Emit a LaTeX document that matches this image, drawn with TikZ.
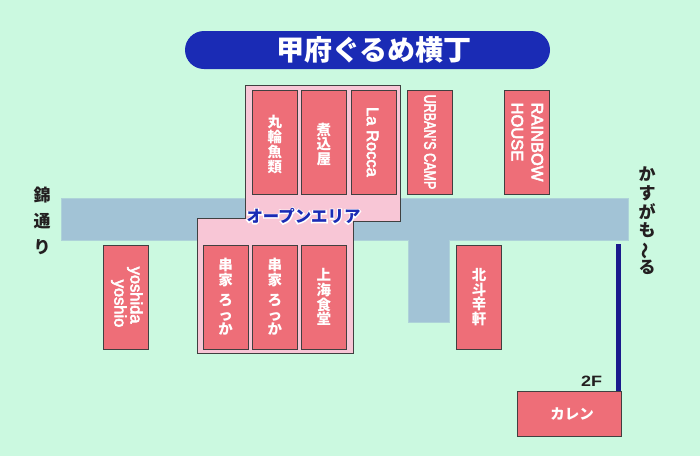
\documentclass[tikz,border=0pt]{standalone}
\usepackage{fontspec}
\setmainfont{Liberation Sans}
\newfontfamily\cjk{Noto Sans CJK JP}
\newfontfamily\cjkhalo[FakeBold=20]{Noto Sans CJK JP}
\newfontfamily\latmed[FakeBold=3.5]{Liberation Sans}
\definecolor{bgc}{HTML}{CBF9E0}
\definecolor{roadc}{HTML}{A2C3D6}
\definecolor{pinkc}{HTML}{F8C6D6}
\definecolor{shopc}{HTML}{EE6E78}
\definecolor{navyc}{HTML}{1A2BB5}
\definecolor{linec}{HTML}{1A1A8C}
\definecolor{inkc}{HTML}{231F20}
\newcommand{\vlat}[1]{\rotatebox{-90}{#1}}
\newcommand{\firstline}{\rule{0pt}{17pt}}
\tikzset{
  shopbox/.style={draw=black!75,line width=0.9pt,fill=shopc,text=white,inner sep=0pt,
    minimum width=45pt,minimum height=104pt,align=center,
    font=\cjk\bfseries\fontsize{14.5}{14.8}\selectfont},
  wideshop/.style={shopbox,minimum width=104pt,minimum height=45pt},
  latin/.style={font=\latmed\fontsize{16.5}{17}\selectfont},
  sidelabel/.style={text=inkc,inner sep=0pt,align=center},
}
\begin{document}
\begin{tikzpicture}[x=1pt,y=-1pt]
\useasboundingbox (0,0) rectangle (700,456);
\fill[bgc] (0,0) rectangle (700,456);
% road
\filldraw[fill=roadc,draw=roadc!70!bgc,line width=0.6pt] (61,198.5) -- (628,198.5) -- (628,240) -- (449.5,240) -- (449.5,322) -- (408,322) -- (408,240) -- (61,240) -- cycle;
% title
\node[fill=navyc,rounded corners=19pt,minimum width=365pt,minimum height=38pt,inner sep=0pt,text=white,
  font=\cjk\bfseries\fontsize{28}{30}\selectfont] (title) at (367.5,50) {\hspace*{13pt}甲府ぐるめ横丁};
% open area
\draw[fill=pinkc,draw=black!75,line width=0.9pt] (245.5,85.5) -- (400.5,85.5) -- (400.5,221) -- (353,221) -- (353,353) -- (197.5,353) -- (197.5,218.5) -- (245.5,218.5) -- cycle;
% shops
\node[shopbox] (maruwa) at (274.75,142) {\firstline 丸\\輪\\魚\\類};
\node[shopbox] (nikomi) at (323.75,142) {\firstline 煮\\込\\屋};
\node[shopbox,latin] (rocca) at (373.5,142) {\vlat{La Rocca}\hspace*{2pt}};
\node[shopbox,latin] (urban) at (430,142) {\vlat{\scalebox{0.76}[1]{URBAN’S CAMP}}};
\node[shopbox,latin] (rainbow) at (527,142) {\vlat{\begin{tabular}{@{}l@{}}RAINBOW\\[3pt]HOUSE\end{tabular}}\hspace*{4pt}};
\node[shopbox,latin] (yoshida) at (126,297) {\vlat{\begin{tabular}{@{}l@{}}yoshida\\[-1pt]\hspace*{13pt}yoshio\end{tabular}}};
\node[shopbox] (kushi1) at (225.5,297) {串\\家\\[5pt]ろ\\っ\\か};
\node[shopbox] (kushi2) at (274.75,297) {串\\家\\[5pt]ろ\\っ\\か};
\node[shopbox] (shanghai) at (323.75,297) {上\\海\\食\\堂};
\node[shopbox] (hokuto) at (479,297) {北\\斗\\辛\\軒};
\node[wideshop,font=\cjk\bfseries\fontsize{14.5}{15}\selectfont] (karen) at (569,414) {\hspace*{6pt}\raisebox{-2pt}{カレン}};
% stairs
\fill[linec] (616,244) rectangle (621,391);
\node[sidelabel,font=\bfseries\fontsize{15}{16}\selectfont] (f2) at (591.5,381.5) {\scalebox{1.2}[1]{2F}};
% open area label
\node[inner sep=0pt,text=white,font=\cjkhalo\fontsize{16.4}{17}\selectfont] (openhalo) at (303.5,216) {オープンエリア};
\node[inner sep=0pt,text=navyc,font=\cjk\bfseries\fontsize{16.4}{17}\selectfont] (open) at (303.5,216) {オープンエリア};
% street names
\node[sidelabel,font=\cjk\bfseries\fontsize{17}{26}\selectfont] (nishiki) at (42,221) {錦\\通\\り};
\node[sidelabel,font=\cjk\bfseries\fontsize{17}{18.6}\selectfont] (kasuga) at (647,221) {か\\す\\が\\も\\\rotatebox[origin=c]{90}{〜}\\る};
\end{tikzpicture}
\end{document}
